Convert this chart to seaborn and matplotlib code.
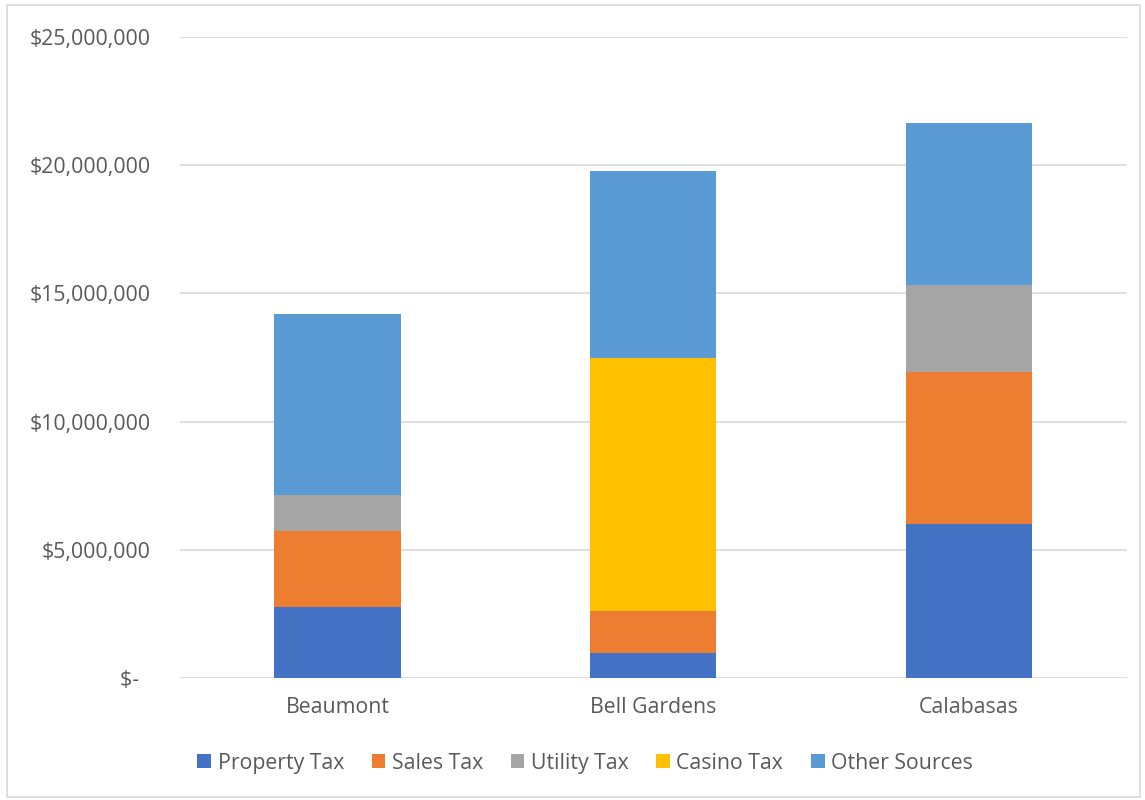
import matplotlib
matplotlib.use("Agg")
import matplotlib.pyplot as plt
import matplotlib.ticker as mticker
from matplotlib.patches import Patch, Rectangle
import numpy as np
import pandas as pd
import seaborn as sns

# Revenue by source for three cities (US dollars)
cities = ["Beaumont", "Bell Gardens", "Calabasas"]
sources = ["Property Tax", "Sales Tax", "Utility Tax", "Casino Tax", "Other Sources"]
property_tax = [2_770_000, 980_000, 6_020_000]
sales_tax = [2_960_000, 1_630_000, 5_900_000]
utility_tax = [1_390_000, 0, 3_420_000]
casino_tax = [0, 9_850_000, 0]
other_sources = [7_070_000, 7_320_000, 6_310_000]
y_ticks = [0, 5_000_000, 10_000_000, 15_000_000, 20_000_000, 25_000_000]

colors = {
    "Property Tax": "#4472C4",
    "Sales Tax": "#ED7D31",
    "Utility Tax": "#A5A5A5",
    "Casino Tax": "#FFC000",
    "Other Sources": "#5B9BD5",
}

df = pd.DataFrame({
    "City": cities,
    "Property Tax": property_tax,
    "Sales Tax": sales_tax,
    "Utility Tax": utility_tax,
    "Casino Tax": casino_tax,
    "Other Sources": other_sources,
})
# running totals: each layer is drawn as a bar reaching its stacked top
cum = df[sources].cumsum(axis=1)
cum.insert(0, "City", df["City"])

sns.set_theme(style="white")
plt.rcParams["font.family"] = ["Open Sans", "DejaVu Sans"]
text_color = "#595959"
fs = 15.3

fig = plt.figure(figsize=(11.45, 8.0), dpi=100)
ax = fig.add_axes([0.157, 0.1525, 0.827, 0.8015])

# draw from the tallest layer down so lower segments sit on top
for src in reversed(sources):
    sns.barplot(data=cum, x="City", y=src, color=colors[src], width=0.4,
                saturation=1, ax=ax, edgecolor="none", zorder=3)

ax.set_xlim(-0.5, 2.5)
ax.set_ylim(0, 25_000_000)
ax.set_yticks(y_ticks)


def money(v, pos):
    if v == 0:
        return "$-  "
    return "${:,.0f}".format(v)


ax.yaxis.set_major_formatter(mticker.FuncFormatter(money))
ax.grid(axis="y", color="#D9D9D9", linewidth=1.2, zorder=0)
ax.set_axisbelow(True)
for s in ax.spines.values():
    s.set_visible(False)
ax.tick_params(axis="y", length=0, pad=21, labelsize=fs, labelcolor=text_color)
ax.tick_params(axis="x", length=0, pad=14, labelsize=fs, labelcolor=text_color)
ax.set_xlabel("")
ax.set_ylabel("")

handles = [Patch(facecolor=colors[s], edgecolor="none", label=s) for s in sources]
leg = fig.legend(handles=handles, loc="center", bbox_to_anchor=(0.511, 0.046),
                 ncol=5, frameon=False, fontsize=fs, handlelength=0.65,
                 handleheight=0.65, handletextpad=0.3, columnspacing=1.3)
for t in leg.get_texts():
    t.set_color(text_color)

# chart frame
fig.patches.append(Rectangle((0.006, 0.004), 0.99, 0.99, transform=fig.transFigure,
                             fill=False, edgecolor="#D9D9D9", linewidth=1.2))

fig.savefig("out.png", dpi=100)
